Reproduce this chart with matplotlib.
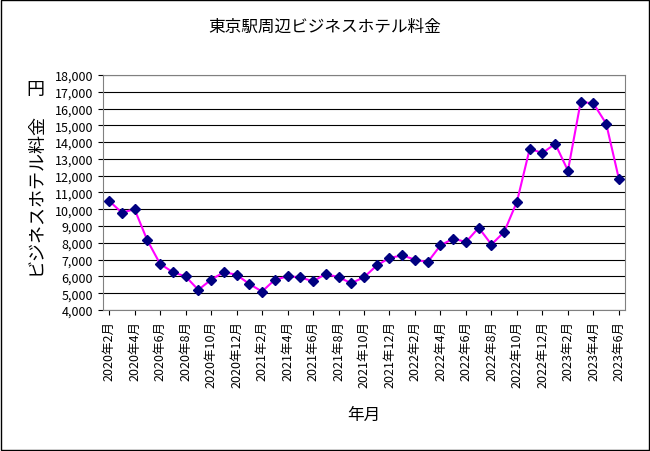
import matplotlib

matplotlib.use("Agg")
import matplotlib.pyplot as plt
from matplotlib.ticker import FuncFormatter

plt.rcParams["font.family"] = "Noto Sans CJK JP"

months = []
for y in range(2020, 2024):
    for m in range(1, 13):
        if (y == 2020 and m < 2) or (y == 2023 and m > 6):
            continue
        months.append(f"{y}年{m}月")

prices = [10500, 9800, 10000, 8150, 6750, 6250, 6000, 5200, 5800, 6250, 6100,
          5550, 5100, 5800, 6000, 5950, 5700, 6150, 5950, 5600, 5950, 6650, 7100,
          7250, 7000, 6850, 7850, 8250, 8050, 8900, 7900, 8650, 10450, 13600, 13350,
          13900, 12300, 16400, 16300, 15100, 11800]

fig = plt.figure(figsize=(6.5, 4.52), dpi=100)
ax = fig.add_axes([0.158, 0.312, 0.804, 0.52])
x = list(range(len(prices)))
ax.plot(x, prices, color="#ff00ff", lw=1.5, marker="D", ms=5,
        markerfacecolor="#000080", markeredgecolor="#000080")
ax.set_xlim(-0.5, len(prices) - 0.5)
ax.set_ylim(4000, 18000)
ax.set_yticks(range(4000, 18001, 1000))
ax.yaxis.set_major_formatter(FuncFormatter(lambda v, p: f"{int(v):,}"))
ax.grid(axis="y", color="black", lw=0.8)
ax.set_xticks(x[::2])
ax.set_xticklabels(months[::2], rotation=90, fontsize=9)
ax.tick_params(axis="y", labelsize=9)
for s in ax.spines.values():
    s.set_color("#808080")

fig.text(0.5, 0.93, "東京駅周辺ビジネスホテル料金", ha="center", fontsize=12)
fig.text(0.055, 0.57, "ビジネスホテル料金", rotation=90, ha="center", va="center", fontsize=13)
fig.text(0.055, 0.80, "円", ha="center", va="center", fontsize=13)
fig.text(0.56, 0.07, "年月", ha="center", fontsize=12)
fig.patches.append(plt.Rectangle((0.002, 0.002), 0.996, 0.996, transform=fig.transFigure,
                                 fill=False, edgecolor="black", lw=1))
fig.savefig("out.png", dpi=100)
